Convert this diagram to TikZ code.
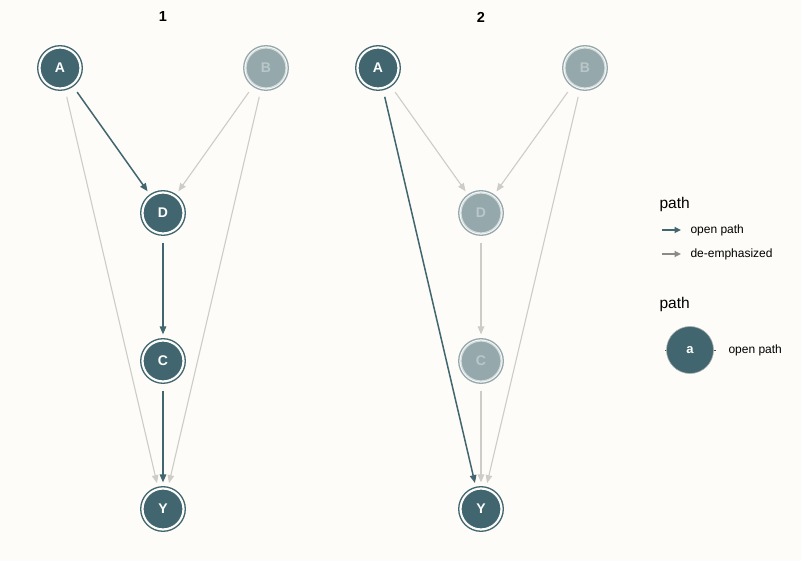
\documentclass[tikz,border=0pt]{standalone}
\usepackage{fontspec}
\setmainfont{Liberation Sans}
\usetikzlibrary{arrows.meta}
\definecolor{bg}{HTML}{FDFCF8}
\definecolor{dk}{HTML}{41666F}
\definecolor{fd}{HTML}{95A9AD}
\definecolor{fdtxt}{HTML}{B9C7C9}
\definecolor{gecol}{HTML}{CDCCC6}
\definecolor{lg}{HTML}{8A8A88}
\tikzset{
  nd/.style={circle, fill=dk, draw=white, line width=1.2pt, minimum size=40pt, inner sep=0pt,
    text=white, font=\fontsize{14}{14}\selectfont\bfseries,
    append after command={\pgfextra{\draw[dk, line width=1.3pt] (\tikzlastnode.center) circle (22.3pt);}}},
  fdn/.style={circle, fill=fd, draw=white!60!fd, line width=1.2pt, minimum size=40pt, inner sep=0pt,
    text=fdtxt, font=\fontsize{14}{14}\selectfont\bfseries,
    append after command={\pgfextra{\draw[fd, line width=1.3pt] (\tikzlastnode.center) circle (22.3pt);}}},
  dedge/.style={draw=dk, line width=1.5pt, -{Triangle[length=8pt,width=6.5pt]}, shorten >=6pt, shorten <=9pt},
  gedge/.style={draw=gecol, line width=1.1pt, -{Triangle[length=8pt,width=6.5pt]}, shorten >=6pt, shorten <=9pt},
  ttl/.style={font=\fontsize{14.5}{14.5}\selectfont\bfseries},
  lgt/.style={font=\fontsize{15.5}{15.5}\selectfont, anchor=west},
  lgs/.style={font=\fontsize{12}{12}\selectfont, anchor=west},
}
\begin{document}
\begin{tikzpicture}[x=1pt,y=-1pt]
\fill[bg] (0,0) rectangle (801,561);
\useasboundingbox (0,0) rectangle (801,561);
% titles
\node[ttl] (t1) at (163,17) {1};
\node[ttl] (t2) at (481,17) {2};
% panel 1
\node[nd] (A1) at (60,68) {A};
\node[fdn] (B1) at (266,68) {B};
\node[nd] (D1) at (163,213) {D};
\node[nd] (C1) at (163,361) {C};
\node[nd] (Y1) at (163,509) {Y};
\draw[gedge] (A1) -- (Y1);
\draw[gedge] (B1) -- (Y1);
\draw[gedge] (B1) -- (D1);
\draw[dedge] (A1) -- (D1);
\draw[dedge] (D1) -- (C1);
\draw[dedge] (C1) -- (Y1);
% panel 2
\node[nd] (A2) at (378,68) {A};
\node[fdn] (B2) at (585,68) {B};
\node[fdn] (D2) at (481,213) {D};
\node[fdn] (C2) at (481,361) {C};
\node[nd] (Y2) at (481,509) {Y};
\draw[gedge] (A2) -- (D2);
\draw[gedge] (B2) -- (D2);
\draw[gedge] (D2) -- (C2);
\draw[gedge] (C2) -- (Y2);
\draw[gedge] (B2) -- (Y2);
\draw[dedge] (A2) -- (Y2);
% legend
\node[lgt] (L1) at (656,204) {path};
\coordinate (la1) at (662,230);
\coordinate (lb1) at (681,230);
\coordinate (la2) at (662,254);
\coordinate (lb2) at (681,254);
\draw[dk, line width=1.7pt, -{Triangle[length=6.5pt,width=6pt]}] (la1) -- (lb1);
\draw[lg, line width=1.7pt, -{Triangle[length=6.5pt,width=6pt]}] (la2) -- (lb2);
\node[lgs] (L1a) at (687,230) {open path};
\node[lgs] (L1b) at (687,254) {de-emphasized};
\node[lgt] (L2) at (656,304) {path};
\coordinate (lc1) at (665,350);
\coordinate (lc2) at (716,350);
\draw[black!70, line width=0.8pt] (lc1) -- (lc2);
\node[circle, fill=dk, draw=lg!70, line width=0.6pt, minimum size=47pt, inner sep=0pt, text=white,
  font=\fontsize{13}{13}\selectfont\bfseries] (La) at (690,350) {a};
\node[lgs] (L2a) at (725,350) {open path};
\end{tikzpicture}
\end{document}
